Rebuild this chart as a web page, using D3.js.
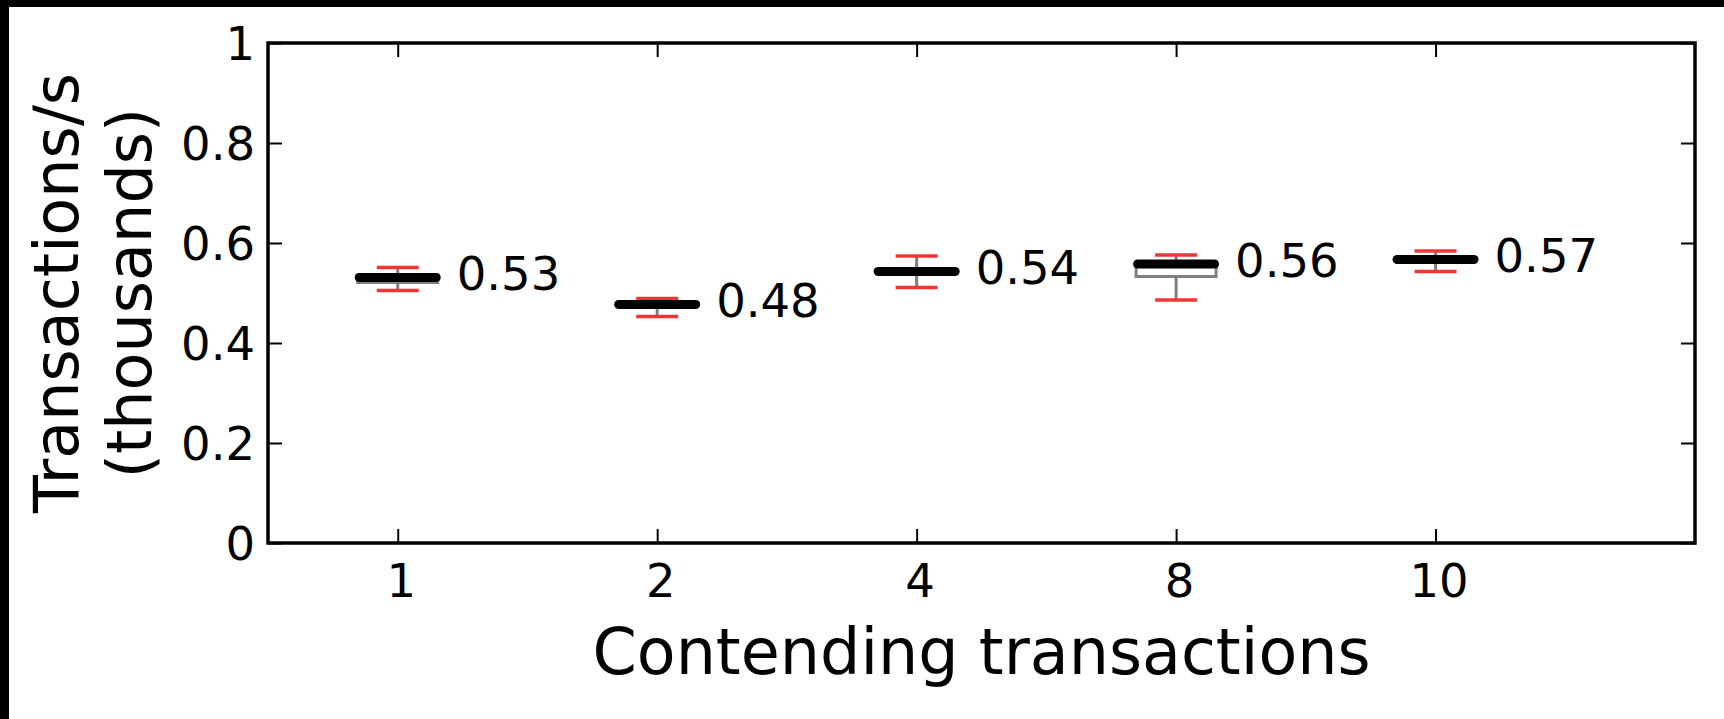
<!DOCTYPE html>
<html>
<head>
<meta charset="utf-8">
<script src="https://cdn.jsdelivr.net/npm/d3@7"></script>
<style>
  body { margin: 0; background: #fff; }
  svg { display: block; font-family: "DejaVu Sans", sans-serif; }
</style>
</head>
<body>
<svg id="chart"></svg>
<script>
// data
const categories = ["1", "2", "4", "8", "10"];
const medians = [0.531, 0.477, 0.543, 0.558, 0.567];
const q1 = [0.521, 0.474, 0.540, 0.533, 0.565];
const q3 = [0.536, 0.480, 0.546, 0.560, 0.570];
const whiskerLow = [0.505, 0.453, 0.511, 0.486, 0.543];
const whiskerHigh = [0.551, 0.489, 0.574, 0.576, 0.584];
const valueLabels = ["0.53", "0.48", "0.54", "0.56", "0.57"];
const yTicks = [0, 0.2, 0.4, 0.6, 0.8, 1];

const W = 1724, H = 719;
var margin = { top: 43, right: 29, bottom: 176, left: 268 };
var width = W - margin.left - margin.right;
var height = H - margin.top - margin.bottom;

const svg = d3.select("#chart").attr("width", W).attr("height", H);
svg.append("rect").attr("width", W).attr("height", H).attr("fill", "#fff");
// black frame strips at top and left of the screenshot
svg.append("rect").attr("x", 0).attr("y", 0).attr("width", W).attr("height", 7).attr("fill", "#000");
svg.append("rect").attr("x", 0).attr("y", 0).attr("width", 9).attr("height", H).attr("fill", "#000");

const g = svg.append("g").attr("transform", "translate(" + margin.left + "," + margin.top + ")");

// positions 1..5, xlim 0.5..6 like matplotlib boxplot
let x = d3.scaleLinear().domain([0.5, 6]).range([0, width]);
let y = d3.scaleLinear().domain([0, 1]).range([height, 0]);
const pos = (i) => x(i + 1);

const fmtY = (d) => (d === 0 || d === 1) ? String(d) : d3.format(".1f")(d);

// axes, ticks pointing inward
const axLeft = g.append("g").call(d3.axisLeft(y).tickValues(yTicks).tickFormat(fmtY).tickSize(-14).tickPadding(13));
const axRight = g.append("g").attr("transform", "translate(" + width + ",0)")
  .call(d3.axisRight(y).tickValues(yTicks).tickFormat("").tickSize(-14));
const axBottom = g.append("g").attr("transform", "translate(0," + height + ")")
  .call(d3.axisBottom(x).tickValues([1, 2, 3, 4, 5]).tickFormat((d) => categories[d - 1]).tickSize(-14));
const axTop = g.append("g")
  .call(d3.axisTop(x).tickValues([1, 2, 3, 4, 5]).tickFormat("").tickSize(-14));

[axLeft, axRight, axBottom, axTop].forEach((a) => {
  a.select(".domain").remove();
  a.selectAll(".tick line").attr("stroke", "#000").attr("stroke-width", 2);
  a.selectAll("text").attr("font-family", "DejaVu Sans").attr("font-size", 46.5).attr("fill", "#000");
});
axLeft.selectAll("text").attr("dy", "0.36em");
axBottom.selectAll("text").attr("dy", 0).attr("y", 54).attr("dx", 3);

const boxW = 40, capW = 21;
const boxes = g.append("g").selectAll("g").data(categories).join("g");

// whiskers
boxes.append("line")
  .attr("x1", (d, i) => pos(i)).attr("x2", (d, i) => pos(i))
  .attr("y1", (d, i) => y(whiskerLow[i])).attr("y2", (d, i) => y(whiskerHigh[i]))
  .attr("stroke", "#808080").attr("stroke-width", 3);
// box
boxes.append("rect")
  .attr("x", (d, i) => pos(i) - boxW).attr("width", boxW * 2)
  .attr("y", (d, i) => y(q3[i])).attr("height", (d, i) => y(q1[i]) - y(q3[i]))
  .attr("fill", "#fff").attr("stroke", "#808080").attr("stroke-width", 3);
// caps
[whiskerLow, whiskerHigh].forEach((arr) => {
  boxes.append("line")
    .attr("x1", (d, i) => pos(i) - capW).attr("x2", (d, i) => pos(i) + capW)
    .attr("y1", (d, i) => y(arr[i])).attr("y2", (d, i) => y(arr[i]))
    .attr("stroke", "#f03535").attr("stroke-width", 3.5);
});
// median
boxes.append("line")
  .attr("x1", (d, i) => pos(i) - 38.5).attr("x2", (d, i) => pos(i) + 38.5)
  .attr("y1", (d, i) => y(medians[i])).attr("y2", (d, i) => y(medians[i]))
  .attr("stroke", "#000").attr("stroke-width", 9).attr("stroke-linecap", "round");
// value labels
boxes.append("text")
  .attr("x", (d, i) => pos(i) + 59)
  .attr("y", (d, i) => y(medians[i]) + 12.5)
  .attr("font-size", 46.5)
  .text((d, i) => valueLabels[i]);

// spines
g.append("rect").attr("width", width).attr("height", height)
  .attr("fill", "none").attr("stroke", "#000").attr("stroke-width", 3.5);

// axis labels
svg.append("text")
  .attr("x", margin.left + width / 2).attr("y", 674)
  .attr("text-anchor", "middle").attr("font-size", 63.5)
  .text("Contending transactions");

const yl = svg.append("text")
  .attr("transform", "translate(0," + (margin.top + height / 2) + ") rotate(-90)")
  .attr("text-anchor", "middle").attr("font-size", 62);
yl.append("tspan").attr("x", 0).attr("y", 78).text("Transactions/s");
yl.append("tspan").attr("x", 0).attr("y", 151).text("(thousands)");
</script>
</body>
</html>
